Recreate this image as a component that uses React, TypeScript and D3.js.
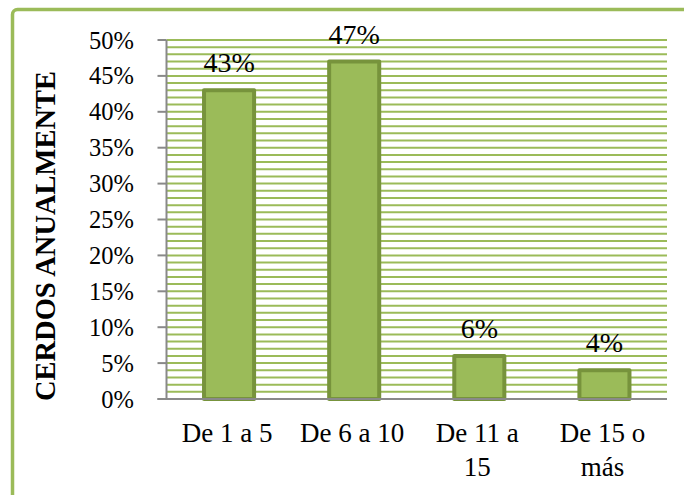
import React from "react";
import * as d3 from "d3";

const categories: string[][] = [["De 1 a 5"], ["De 6 a 10"], ["De 11 a", "15"], ["De 15 o", "más"]];
const values: number[] = [43, 47, 6, 4];
const majorTicks: number[] = [0, 5, 10, 15, 20, 25, 30, 35, 40, 45, 50];
const minorTicks: number[] = d3.range(0, 51, 1);
const yTitle = "CERDOS ANUALMENTE";

const W = 684;
const H = 495;
const FONT = "Liberation Serif, Times New Roman, Times, DejaVu Serif, serif";

export default function App() {
  const x0 = 166.5;
  const x1 = 667;
  const yTop = 40;
  const yBot = 399;
  const x = d3.scaleBand<number>().domain(d3.range(categories.length)).range([x0, x1]).padding(0);
  const y = d3.scaleLinear().domain([0, 50]).range([yBot, yTop]);
  const barW = x.bandwidth() * 0.4;
  const green = "#9BBB59";
  const dark = "#77933C";
  const axisGray = "#898989";
  const tStyle = { fontFamily: FONT };

  return (
    <svg
      width={W}
      height={H}
      style={{ position: "absolute", left: 0, top: 0, display: "block", background: "#fff" }}
    >
      <rect x={12.5} y={9.5} width={720} height={520} rx={5} ry={5} fill="#fff" stroke={green} strokeWidth={3.5} />

      {minorTicks.map((t) => (
        <line key={"g" + t} x1={x0} x2={x1} y1={y(t)} y2={y(t)} stroke={green} strokeWidth={2} />
      ))}

      {values.map((v, i) => {
        const cx = (x(i) as number) + x.bandwidth() / 2;
        return (
          <rect
            key={"b" + i}
            x={cx - barW / 2}
            y={y(v)}
            width={barW}
            height={y(0) - y(v)}
            fill={green}
            stroke={dark}
            strokeWidth={4}
            strokeLinejoin="round"
          />
        );
      })}

      <line x1={x0} x2={x0} y1={yTop} y2={yBot + 1} stroke={axisGray} strokeWidth={2} />
      {majorTicks.map((t) => (
        <g key={"t" + t}>
          <line x1={x0 - 9} x2={x0} y1={y(t)} y2={y(t)} stroke={axisGray} strokeWidth={2} />
          <text x={134} y={y(t) + 8.5} textAnchor="end" style={tStyle} fontSize={24.5} fill="#000">
            {t + "%"}
          </text>
        </g>
      ))}
      <line x1={x0 - 9} x2={x1} y1={yBot} y2={yBot} stroke={axisGray} strokeWidth={2} />

      {values.map((v, i) => {
        const cx = (x(i) as number) + x.bandwidth() / 2;
        return (
          <text key={"l" + i} x={cx} y={y(v) - 18} textAnchor="middle" style={tStyle} fontSize={28} fill="#000">
            {v + "%"}
          </text>
        );
      })}

      {categories.map((lines, i) => {
        const cx = (x(i) as number) + x.bandwidth() / 2 - 2;
        return (
          <text key={"c" + i} textAnchor="middle" style={tStyle} fontSize={27} fill="#000">
            {lines.map((ln, j) => (
              <tspan key={j} x={cx} y={442 + j * 33.5}>
                {ln}
              </tspan>
            ))}
          </text>
        );
      })}

      <text
        transform={`translate(55,236) rotate(-90)`}
        textAnchor="middle"
        style={tStyle}
        fontWeight="bold"
        fontSize={28.5}
        fill="#000"
      >
        {yTitle}
      </text>
    </svg>
  );
}
